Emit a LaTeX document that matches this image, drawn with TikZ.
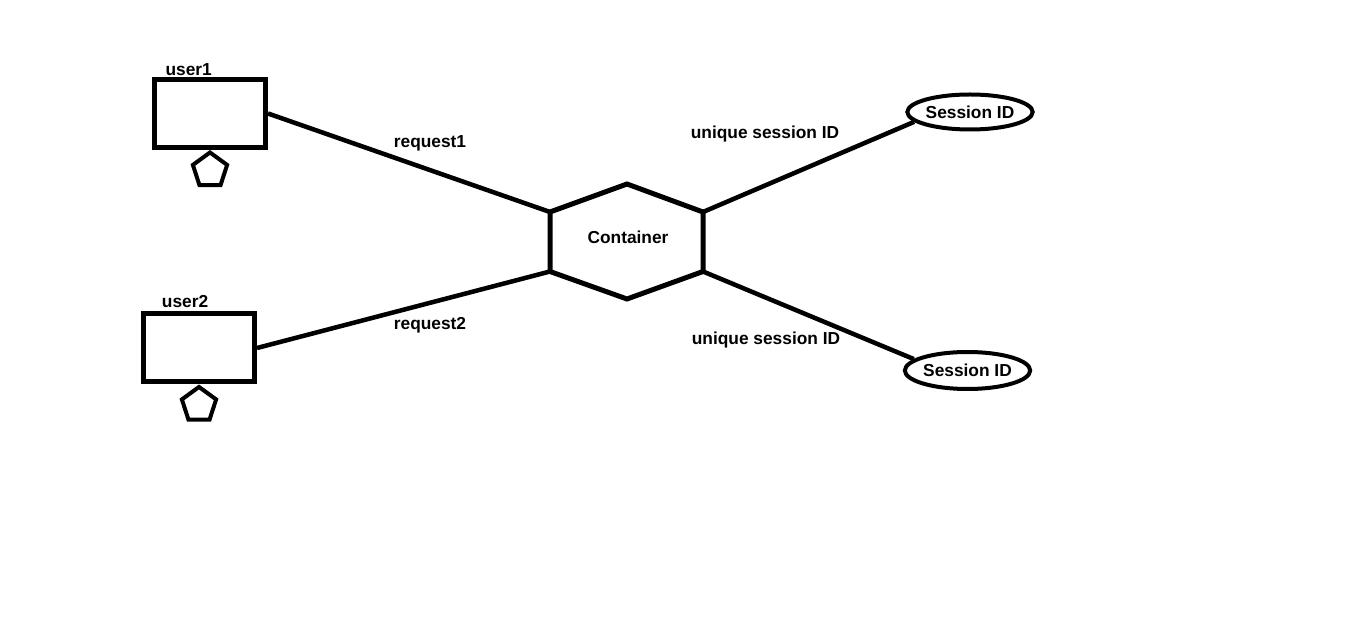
\documentclass[tikz,border=0pt]{standalone}
\usepackage{fontspec}
\setmainfont{Liberation Sans}
\usetikzlibrary{positioning,shapes.geometric}

\begin{document}
\begin{tikzpicture}[x=0.75pt,y=-0.75pt,
        userbox/.style={draw,line width=3.75pt,rectangle,minimum width=83.25pt,minimum height=51pt,inner sep=0pt},
        head/.style={draw,line width=3pt,regular polygon,regular polygon sides=5,minimum size=27pt,inner sep=0pt},
        sid/.style={draw,line width=3pt,ellipse,inner sep=0pt},
        txt/.style={inner sep=0pt,font=\fontsize{13}{15}\selectfont\bfseries},
        link/.style={line width=3.4pt}]
            \useasboundingbox (0,0) rectangle (1360,623);
            \node[userbox] (user1) at (210,113.5) {};
            \node[userbox] (user2) at (199,348) {};
            \node[head,below=0pt of user1] (head1) {};
            \node[head,below=0pt of user2] (head2) {};
            \node[txt,anchor=south west,above right=1pt and 10pt of user1.north west] (lab1) {user1};
            \node[txt,anchor=south west,above right=3pt and 15.5pt of user2.north west] (lab2) {user2};
            \coordinate (hexNW) at (550,212);
            \coordinate (hexN) at (627,184);
            \coordinate (hexNE) at (703,212);
            \coordinate (hexSE) at (703,271.5);
            \coordinate (hexS) at (627,299);
            \coordinate (hexSW) at (550,271.5);
            \draw[line width=3.75pt] (hexNW) -- (hexN) -- (hexNE) -- (hexSE) -- (hexS) -- (hexSW) -- cycle;
            \node[txt] (cont) at (628,237) {Container};
            \node[sid,minimum width=93pt,minimum height=26.25pt] (sid1) at (970,112) {\fontsize{13}{15}\selectfont\bfseries Session ID};
            \node[sid,minimum width=86pt,minimum height=27.75pt] (sid2) at (967.5,370.5) {\fontsize{13}{15}\selectfont\bfseries Session ID};
            \draw[link] (user1.east) -- (hexNW);
            \draw[link] (user2.east) -- (hexSW);
            \draw[link] (hexNE) -- (sid1.190);
            \draw[link] (hexSE) -- (sid2.168);
            \node[txt] (req1) at (430,143) {request1};
            \node[txt] (req2) at (430,325) {request2};
            \node[txt] (uniq1) at (765,134) {unique session ID};
            \node[txt] (uniq2) at (766,340) {unique session ID};
        \end{tikzpicture}
\end{document}
